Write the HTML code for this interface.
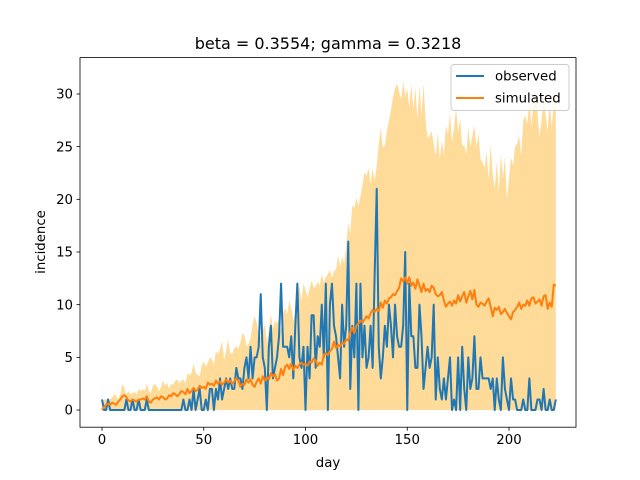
<!DOCTYPE html>
<html><head><meta charset="utf-8"><style>
body{margin:0;background:#fff}
svg{display:block;font-family:"DejaVu Sans","Liberation Sans",sans-serif}
</style></head><body>
<svg id="c" width="640" height="480"></svg>
<script>
const observed=[1,0,0,1,0,0,0,0,0,0,0,0,1,0,0,1,0,0,1,0,
0,0,1,0,0,0,0,0,0,0,0,0,0,0,0,0,0,0,0,0,
1,0,0,1,0,2,0,1,2,0,0,1,0,2,2,0,2,1,3,1,
2,3,2,3,2,2,4,3,3,2,4,5,3,6,3,5,5,6,11,5,
4,0,6,8,3,4,5,7,12,6,6,6,5,7,3,8,12,5,4,6,
0,6,3,9,9,4,7,6,10,5,12,0,10,12,8,7,5,3,10,6,
8,16,2,8,5,12,0,12,5,8,4,5,8,4,13,21,6,3,5,8,
6,10,8,5,10,7,6,6,8,15,0,12,7,7,4,4,10,7,2,4,
6,4,5,10,1,5,2,1,3,1,3,5,0,1,0,5,0,6,2,0,
5,2,3,7,2,2,5,3,3,3,3,2,3,0,3,1,0,5,2,1,
0,3,1,1,0,0,0,1,0,0,3,0,0,0,1,1,0,2,0,0,1,0,0,1];
const simulated=[0,0.3,0.5,0.6,0.5,0.7,0.6,0.5,0.8,1.0,1.3,1.4,1.2,0.9,0.8,1.0,0.9,0.8,1.0,1.0,
1.1,1.0,1.3,0.8,0.7,1.0,1.1,1.2,1.0,1.3,1.2,1.0,1.1,1.4,1.3,1.6,1.5,1.3,1.5,1.8,
1.7,1.5,2.0,1.6,1.8,2.1,1.8,1.9,2.3,2.1,2.2,2.0,2.6,2.4,2.5,2.3,2.8,2.5,2.7,2.4,
2.6,2.9,2.6,2.8,2.5,2.7,3.0,2.8,2.2,2.5,2.4,2.9,2.6,2.9,2.4,2.2,2.7,3.0,2.5,3.2,
2.8,3.1,2.9,3.5,3.2,3.4,2.8,3.0,3.9,3.3,4.1,4.3,3.9,4.4,3.8,4.2,4.0,4.3,4.5,4.3,
4.4,4.2,4.6,4.5,4.9,4.7,4.2,4.5,4.3,5.2,5.4,5.2,5.6,5.8,6.5,5.9,6.2,6.0,6.4,6.3,
6.7,6.6,7.4,7.8,7.3,8.0,8.2,8.5,8.3,8.6,8.9,8.7,9.2,9.5,9.3,9.6,9.4,10.2,9.7,10.4,
10.1,10.6,10.7,11.0,10.9,11.3,11.6,12.5,12.2,12.6,12.0,12.6,11.8,12.1,11.5,12.4,11.8,11.2,12.0,11.3,
11.5,11.2,11.8,11.6,11.0,10.8,10.9,11.2,10.4,9.8,10.1,10.3,9.9,10.4,10.1,10.9,10.3,10.8,11.2,10.2,
10.8,11.3,10.5,11.4,10.0,9.8,10.2,10.1,9.9,10.3,10.6,9.8,8.9,9.7,9.5,9.8,9.1,9.3,9.6,9.2,
8.9,8.6,9.3,9.5,9.8,10.2,9.6,10.0,9.9,10.4,9.9,10.6,10.7,10.1,10.3,10.5,9.9,10.8,10.9,9.6,10.2,9.8,11.9,11.8];
const upper=[0.8,1,1,1,1,1.2,1.5,1.3,1,1.5,2.5,2,1.5,1.8,1.5,1.6,1.7,1.5,2,1.8,
2,1.8,2.5,1.8,1.6,2.3,2.5,2.2,1.8,2.2,2.8,2.3,2.6,2,2.5,2.4,2.8,2.9,2.5,2.8,
2.9,2.5,3.5,3.3,3.5,4.4,3.6,3.3,3.2,4.2,4.6,4.1,4.5,5.0,4.8,4.3,5.6,5.3,5.8,6.5,
4.8,5.6,6.7,5.4,5.3,5.9,6.0,5.8,6.4,7.3,7.1,6.0,6.3,6.8,8.1,8.9,8.3,7.2,6.9,7.6,
8.1,6.4,7.6,9.1,7.7,8.5,8.2,8.6,7.5,9.2,9.7,9.1,10.4,9.7,8.5,9.3,10.2,11.8,10.3,12.0,
11.4,10.7,11.5,12.3,11.6,11.7,12.2,11.8,12.9,12.1,12.6,12.9,13.3,12.5,13.2,13.3,14.7,13.6,14.6,13.9,
15.5,17.8,16.7,19.5,19.1,20.2,19.3,20.3,21.3,22.6,22.2,23.0,21.5,22.9,21.8,23.2,25.2,26.8,24.9,25.1,
26.5,27.5,28.5,29.7,30.5,31.0,30.2,29.5,31.2,29.8,30.5,28.8,30.9,28.5,30.6,27.6,30.8,28.0,31.0,27.5,
25.8,26.0,26.5,25.2,24.1,26.3,23.8,25.6,24.2,27.0,26.2,28.2,25.5,26.8,28.7,26.4,27.7,25.0,25.2,24.3,
26.8,25.0,26.0,27.0,25.0,26.2,23.8,23.5,23.0,24.5,21.8,25.2,22.5,21.0,23.6,20.8,24.3,22.0,24.0,19.9,
22.0,24.0,23.2,25.0,25.3,26.0,24.2,27.5,28.0,27.1,29.4,27.0,29.2,30.4,28.2,25.9,27.5,29.6,28.0,26.5,29.3,26.9,29.1,31.2];
const lower=observed.map(()=>0);
const xTicks=[0,50,100,150,200];
const yTicks=[0,5,10,15,20,25,30];

const NS="http://www.w3.org/2000/svg";
const svg=document.getElementById('c');
const L=80,R=576,T=57.6,B=427.2;
const X=d=>102+d*(509-102)/200;
const Y=v=>410-v*(410-94)/30;
function mk(tag,attrs,parent){const e=document.createElementNS(NS,tag);for(const k in attrs)e.setAttribute(k,attrs[k]);(parent||svg).appendChild(e);return e;}

// band
let d='M'+upper.map((v,i)=>X(i).toFixed(2)+','+Y(v).toFixed(2)).join('L');
for(let i=lower.length-1;i>=0;i--)d+='L'+X(i).toFixed(2)+','+Y(lower[i]).toFixed(2);
const band=mk('path',{d:d+'Z',fill:'#ffdb99',stroke:'none'});



const lo=mk('polyline',{points:observed.map((v,i)=>X(i).toFixed(2)+','+Y(v).toFixed(2)).join(' '),fill:'none',stroke:'#1f77b4','stroke-width':2,'stroke-linejoin':'round'});


const ls=mk('polyline',{points:simulated.map((v,i)=>X(i).toFixed(2)+','+Y(v).toFixed(2)).join(' '),fill:'none',stroke:'#ff7f0e','stroke-width':2,'stroke-linejoin':'round'});



const frame=mk('rect',{x:L,y:T,width:R-L,height:B-T,fill:'none',stroke:'#000','stroke-width':0.8});



xTicks.forEach(t=>{
  const tl=mk('line',{x1:X(t),x2:X(t),y1:B,y2:B+3.5,stroke:'#000','stroke-width':0.8});
  
  
  const tx=mk('text',{x:X(t),y:B+17,'text-anchor':'middle','font-size':'13.3'});
  tx.textContent=t;
  
  
});
yTicks.forEach(t=>{
  const tl=mk('line',{x1:L-3.5,x2:L,y1:Y(t),y2:Y(t),stroke:'#000','stroke-width':0.8});
  
  
  const tx=mk('text',{x:L-7,y:Y(t)+4.7,'text-anchor':'end','font-size':'13.3'});
  tx.textContent=t;
  
  
});
const xt=mk('text',{x:328,y:467,'text-anchor':'middle','font-size':'13.3'});xt.textContent='day';


const yt=mk('text',{x:0,y:0,'text-anchor':'middle','font-size':'13.3',transform:'translate(45,242) rotate(-90)'});yt.textContent='incidence';


const tt=mk('text',{x:328,y:49,'text-anchor':'middle','font-size':'16'});tt.textContent='beta = 0.3554; gamma = 0.3218';



const lg=mk('g',{});


mk('rect',{x:451,y:64.5,width:118,height:46,rx:3,fill:'#fff','fill-opacity':0.8,stroke:'#ccc','stroke-width':1},lg);
[['observed','#1f77b4',76],['simulated','#ff7f0e',98]].forEach(([n,c,y])=>{
  const e=mk('g',{},lg);
  
  
  mk('line',{x1:456,x2:484,y1:y,y2:y,stroke:c,'stroke-width':2},e);
  const t=mk('text',{x:495,y:y+4.7,'font-size':'13.3'},e);t.textContent=n;
});
</script>
</body></html>
